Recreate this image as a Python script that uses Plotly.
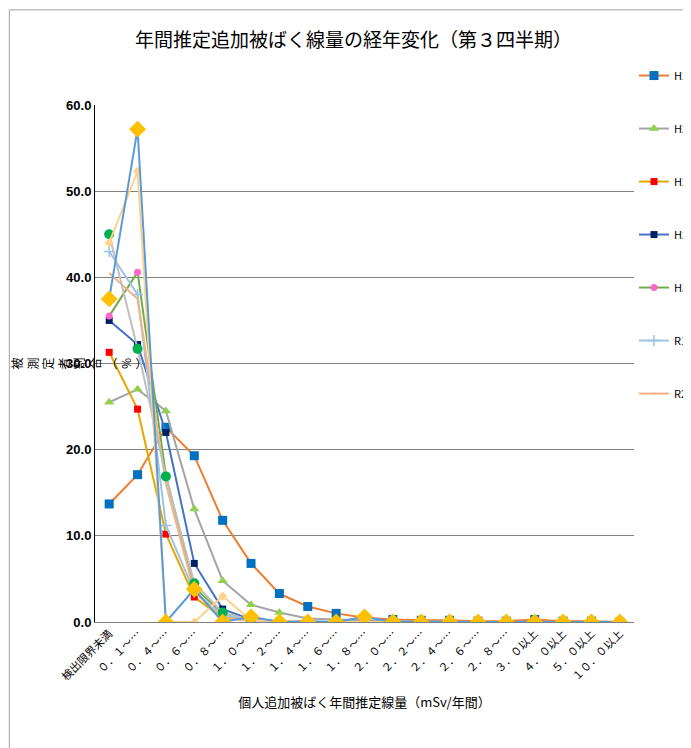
import plotly.graph_objects as go

categories = ["検出限界未満","０．１～…","０．４～…","０．６～…","０．８～…","１．０～…","１．２～…","１．４～…",
              "１．６～…","１．８～…","２．０～…","２．２～…","２．４～…","２．６～…","２．８～…",
              "３．０以上","４．０以上","５．０以上","１０．０以上"]
series_names = ["H26","H27","H28","H29","H30","R1","R2","R3","R4","R5"]
H26 = [13.7,17.1,22.6,19.3,11.8,6.8,3.3,1.8,1.0,0.5,0.3,0.2,0.2,0.1,0.1,0.3,0.1,0.1,0.0]
H27 = [25.5,27.0,24.5,13.1,4.8,2.0,1.1,0.4,0.3,0.2,0.1,0.1,0.1,0.0,0.0,0.1,0.0,0.0,0.0]
H28 = [31.3,24.7,10.2,2.9,0.5,0.2,0.1,0.0,0.0,0.0,0.0,0.0,0.0,0.0,0.0,0.0,0.0,0.0,0.0]
H29 = [35.0,32.2,22.0,6.8,1.5,0.3,0.1,0.1,0.0,0.0,0.0,0.0,0.0,0.0,0.0,0.0,0.0,0.0,0.0]
H30 = [35.5,40.6,17.0,4.0,1.0,0.2,0.1,0.0,0.0,0.0,0.0,0.0,0.0,0.0,0.0,0.0,0.0,0.0,0.0]
R1  = [43.0,38.0,11.2,3.5,0.8,0.2,0.1,0.0,0.0,0.0,0.0,0.0,0.0,0.0,0.0,0.0,0.0,0.0,0.0]
R2  = [40.5,37.5,16.0,3.5,0.5,0.1,0.0,0.0,0.0,0.0,0.0,0.0,0.0,0.0,0.0,0.0,0.0,0.0,0.0]
R3  = [45.0,31.7,16.9,4.5,1.1,0.2,0.1,0.0,0.0,0.0,0.0,0.0,0.0,0.0,0.0,0.0,0.0,0.0,0.0]
R4  = [44.0,52.3,0.0,0.0,3.0,0.2,0.1,0.0,0.0,0.0,0.0,0.0,0.0,0.0,0.0,0.0,0.0,0.0,0.0]
R5  = [37.5,57.2,0.0,3.8,0.0,0.6,0.0,0.0,0.0,0.6,0.0,0.0,0.0,0.0,0.0,0.0,0.0,0.0,0.0]
data = [H26,H27,H28,H29,H30,R1,R2,R3,R4,R5]

styles = [
    ("#ED7D31", dict(symbol="square", color="#0070C0", size=9)),
    ("#A5A5A5", dict(symbol="triangle-up", color="#92D050", size=9)),
    ("#E6A800", dict(symbol="square", color="#FF0000", size=7)),
    ("#4472C4", dict(symbol="square", color="#002060", size=7)),
    ("#70AD47", dict(symbol="circle", color="#FF66CC", size=7)),
    ("#9DC3E6", dict(symbol="cross-thin", color="#9DC3E6", size=8, line=dict(color="#9DC3E6", width=1.5))),
    ("#F4B183", dict(symbol="circle", color="#F4B183", size=1)),
    ("#BFBFBF", dict(symbol="circle", color="#00B050", size=10)),
    ("#FFD28C", dict(symbol="diamond", color="#FFD28C", size=7)),
    ("#5B9BD5", dict(symbol="diamond", color="#FFC000", size=13)),
]

fig = go.Figure()
for i, (name, vals) in enumerate(zip(series_names, data)):
    lc, mk = styles[i]
    fig.add_trace(go.Scatter(x=categories, y=vals, name=name, mode="lines+markers",
                             line=dict(color=lc, width=2), marker=mk, legendgroup=name))

fig.update_layout(
    width=691, height=748, paper_bgcolor="white", plot_bgcolor="white",
    margin=dict(l=87, r=65, t=97, b=134, autoexpand=False),
    title=dict(text="年間推定追加被ばく線量の経年変化（第３四半期）", x=0.5, xanchor="center", y=0.965,
               font=dict(size=19, color="black", family="Noto Sans CJK JP")),
    font=dict(family="Noto Sans CJK JP", color="black", size=11),
    legend=dict(x=1.0, xanchor="left", y=1.085, yanchor="top", tracegroupgap=34,
                font=dict(size=11), itemwidth=30, bgcolor="rgba(0,0,0,0)"),
    xaxis=dict(type="category", tickangle=-45, showgrid=False, showline=True, linecolor="#808080",
               ticks="", tickfont=dict(size=11), range=[-0.5, 18.5],
               title=dict(text="個人追加被ばく年間推定線量（mSv/年間）", font=dict(size=13))),
    yaxis=dict(range=[0, 60], dtick=10, tickformat=".1f", showgrid=True, gridcolor="#808080",
               showline=True, linecolor="black", zeroline=False,
               tickfont=dict(size=13, family="Liberation Sans", color="black"),
               title=dict(text="被<br>測<br>定<br>者<br>割<br>合<br>︵<br>%<br>︶", font=dict(size=12), standoff=22)),
)
fig.update_yaxes(tickprefix="<b>", ticksuffix="</b>")
fig.add_shape(type="rect", xref="paper", yref="paper", x0=-0.159, x1=1.118, y0=-0.255, y1=1.184,
              line=dict(color="#A0A0A0", width=1))
fig.write_html("out.html")
